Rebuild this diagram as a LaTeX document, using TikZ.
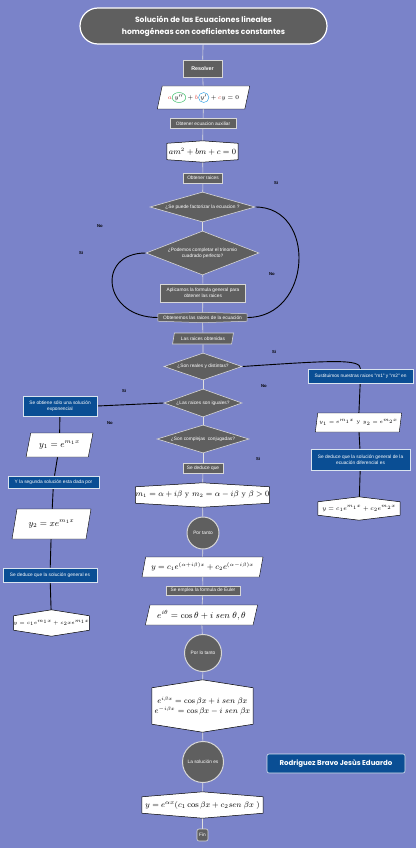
\documentclass[tikz,border=0pt]{standalone}
\usepackage{fontspec}
\newfontfamily\boxfont{Liberation Sans}
\newfontfamily\headfont{Poppins}
\usetikzlibrary{shapes.geometric, positioning}
\definecolor{bgblue}{RGB}{122,131,201}
\definecolor{boxgray}{RGB}{95,95,95}
\definecolor{edgegray}{RGB}{215,215,215}
\definecolor{boxblue}{RGB}{10,78,148}
\definecolor{abcred}{RGB}{225,70,60}
\definecolor{ygreen}{RGB}{60,190,105}
\definecolor{yblue}{RGB}{60,165,230}
\pgfdeclarelayer{background}
\pgfdeclarelayer{lines}
\pgfdeclarelayer{shapes}
\pgfsetlayers{background,lines,shapes,main}
\newcommand{\tinyfont}{\boxfont\fontsize{4.8}{5.8}\selectfont}
\newcommand{\mathsize}[2]{\fontsize{#1}{#2}\selectfont}
\newcommand{\ringed}[2]{\tikz[baseline]\node[ellipse, draw=#1, fill=none, line width=0.5pt, inner sep=0.3pt,
  minimum width=0pt, minimum height=0pt, anchor=base]{$#2$};}

\begin{document}
\begin{tikzpicture}[
  x=1pt, y=-1pt,
  headbox/.style={draw=white, line width=1.2pt, fill=boxgray, text=white, rounded corners=18pt,
                  align=center, font=\headfont\bfseries\fontsize{7.6}{12}\selectfont},
  graybox/.style={draw=edgegray, line width=0.6pt, fill=boxgray, text=white, font=\tinyfont,
                  inner sep=0.5pt, align=center},
  bluebox/.style={draw=white!85!boxblue, line width=0.6pt, fill=boxblue, text=white, font=\tinyfont,
                  inner sep=0.5pt, align=center},
  grayask/.style={diamond, draw=edgegray, line width=0.6pt, fill=boxgray, text=white, font=\tinyfont,
                  inner sep=0pt, align=center},
  slanted/.style={trapezium, trapezium left angle=68, trapezium right angle=112, trapezium stretches=true,
                  draw=black, line width=0.4pt, fill=white, inner sep=0pt},
  hexa/.style={inner sep=0pt, align=center},
  roundstep/.style={circle, draw=edgegray, line width=1pt, fill=boxgray, text=white, font=\tinyfont,
                    inner sep=0pt},
  tag/.style={font=\boxfont\bfseries\fontsize{4.2}{5}\selectfont},
  mainline/.style={draw=white!88!black, line width=0.6pt},
  sideline/.style={draw=black, line width=0.9pt}
]
  \begin{pgfonlayer}{background}
    \fill[bgblue] (0,0) rectangle (416,848);
  \end{pgfonlayer}
  \useasboundingbox (0,0) rectangle (416,848);

  \node[headbox, minimum width=247pt, minimum height=36pt] (title) at (203.5,26)
    {Solución de las Ecuaciones lineales\\homogéneas con coeficientes constantes};
  \node[graybox, minimum width=39pt, minimum height=17pt, font=\boxfont\bfseries\fontsize{5.3}{6}\selectfont]
    (resolver) at (202.5,68.5) {Resolver};
  \node[slanted, minimum width=93pt, minimum height=23pt, font=\mathsize{5.6}{7}] (ecdif) at (203.5,97.5)
    {$\textcolor{abcred}{a}\ringed{ygreen}{y''}+\textcolor{abcred}{b}\ringed{yblue}{y'}+\textcolor{abcred}{c}y=0$};
  \node[graybox, minimum width=66pt, minimum height=10pt] (ecuaux) at (203,123.5) {Obtener ecuacion auxiliar};
  \node[hexa, minimum width=71pt, minimum height=16pt, font=\mathsize{7.8}{9}] (eqaux) at (202.5,151.5) {$am^2+bm+c=0$};
  \node[graybox, minimum width=39pt, minimum height=10pt] (obtraices) at (203,178) {Obtener raices};
  \node[grayask, minimum width=105pt, minimum height=30pt, aspect=3.5] (fact) at (202.5,207)
    {¿Se puede factorizar la ecuacion ?};
  \node[grayask, minimum width=113pt, minimum height=44pt, aspect=2.6] (trin) at (202.5,253)
    {¿Podemos completar el trinomio\\cuadrado perfecto?};
  \node[graybox, minimum width=85pt, minimum height=18pt] (aplic) at (203,293)
    {Aplicamos la formula general para\\obtener las raices};
  \node[hexa, minimum width=89pt, minimum height=7pt, text=white, font=\tinyfont] (obten) at (202.5,317.5)
    {Obtenemos las raices de la ecuación};
  \node[slanted, draw=edgegray, line width=0.6pt, fill=boxgray, text=white, font=\tinyfont,
        minimum width=61pt, minimum height=11pt] (raicobt) at (203,338.5) {Las raices obtenidas};
  \node[grayask, minimum width=78pt, minimum height=27pt, aspect=2.9] (reales) at (203,366.5)
    {¿Son reales y distintas?};
  \node[grayask, minimum width=78pt, minimum height=28pt, aspect=2.8] (iguales) at (203,403)
    {¿Las raices son iguales?};
  \node[grayask, minimum width=92pt, minimum height=28pt, aspect=3.3] (compl) at (203,439)
    {¿Son complejas\enspace conjugadas?};
  \node[graybox, minimum width=40pt, minimum height=10pt] (sededuce) at (203,468) {Se deduce que};
  \node[hexa, minimum width=131pt, minimum height=16pt, font=\mathsize{7.8}{9}] (m12) at (202.5,495)
    {$m_1=\alpha+i\beta\ \mathrm{y}\ m_2=\alpha-i\beta\ \mathrm{y}\ \beta>0$};
  \node[roundstep, minimum size=32pt] (portanto) at (203,533) {Por tanto};
  \node[slanted, minimum width=121pt, minimum height=20pt, font=\mathsize{7.6}{9}] (ycpar) at (202.5,567)
    {$y=c_1e^{(\alpha+i\beta)x}+c_2e^{(\alpha-i\beta)x}$};
  \node[graybox, minimum width=74pt, minimum height=9pt] (euler) at (203,590.5) {Se emplea la formula de Euler};
  \node[slanted, minimum width=113pt, minimum height=20pt, font=\mathsize{8.6}{10}] (eulpar) at (201.5,615)
    {$e^{i\theta}=\cos\theta+i\;sen\;\theta,\theta$};
  \node[roundstep, minimum size=37pt] (porlotanto) at (203,653) {Por lo tanto};
  \node[hexa, minimum width=101pt, minimum height=36pt, font=\mathsize{7.8}{10.5}] (eitwo) at (202.5,706)
    {$e^{i\beta x}=\cos\beta x+i\;sen\;\beta x$\\$e^{-i\beta x}=\cos\beta x-i\;sen\;\beta x$};
  \node[roundstep, minimum size=41pt] (lasol) at (203,762) {La solución es};
  \node[hexa, minimum width=121pt, minimum height=16pt, font=\mathsize{8.2}{10}] (final) at (202.5,805)
    {$y=e^{\alpha x}(c_1\cos\beta x+c_2 sen\;\beta x\;)$};
  \node[graybox, rounded corners=2pt, minimum width=11pt, minimum height=12pt] (fin) at (202.5,835) {Fin};

  \node[bluebox, minimum width=74pt, minimum height=20pt] (sobt) at (60,406)
    {Se obtiene sólo una solución\\exponencial};
  \node[slanted, minimum width=67pt, minimum height=24pt, font=\mathsize{8.6}{10}] (y1par) at (59.5,445) {$y_1=e^{m_1x}$};
  \node[bluebox, minimum width=91pt, minimum height=12pt] (seg) at (53.5,482) {Y la segunda solución esta dada por};
  \node[slanted, minimum width=79pt, minimum height=30pt, font=\mathsize{9}{10}] (y2par) at (51.5,524) {$y_2=xe^{m_1x}$};
  \node[bluebox, minimum width=94pt, minimum height=14pt] (sdedgen) at (50,575) {Se deduce que la solución general es};
  \node[hexa, minimum width=75pt, minimum height=14pt, font=\mathsize{5.4}{6.5}] (hexl) at (51.5,623)
    {$y=c_1e^{m_1x}+c_2xe^{m_1x}$};

  \node[bluebox, minimum width=105pt, minimum height=14pt] (sust) at (360.5,376)
    {Sustituimos nuestras raices "m1" y "m2" en};
  \node[slanted, minimum width=87pt, minimum height=19pt, font=\mathsize{5.3}{6.5}] (y12par) at (358.5,422.5)
    {$y_1=e^{m_1x}\ \mathrm{y}\ y_2=e^{m_2x}$};
  \node[bluebox, minimum width=99pt, minimum height=21pt] (sdedgen2) at (360.5,459.5)
    {Se deduce que la solución general de la\\ecuación diferencial es};
  \node[hexa, minimum width=82pt, minimum height=13pt, font=\mathsize{5.8}{7}] (hexr) at (359,508.5)
    {$y=c_1e^{m_1x}+c_2e^{m_2x}$};

  \node[bluebox, rounded corners=2pt, minimum width=138pt, minimum height=19pt,
        font=\headfont\bfseries\fontsize{7}{8}\selectfont] (autor) at (336,763.5) {Rodriguez Bravo Jesùs Eduardo};

  \node[tag] (si1) at (276,183) {Si};
  \node[tag] (no1) at (100,226) {No};
  \node[tag] (si2) at (81,253) {Si};
  \node[tag] (no2) at (272,274) {No};
  \node[tag] (si3) at (274,352) {Si};
  \node[tag] (no3) at (264,386) {No};
  \node[tag] (si4) at (124,391) {Si};
  \node[tag] (no4) at (110,423) {No};
  \node[tag] (si5) at (258,459) {Si};

  \begin{pgfonlayer}{shapes}
    \foreach \n/\p/\f/\d in {eqaux/2.5/white/black, obten/1.5/boxgray/edgegray, m12/4/white/black,
                             eitwo/8/white/black, final/5/white/black, hexl/6/white/black, hexr/5/white/black}
      \filldraw[fill=\f, draw=\d, line width=0.5pt] (\n.south west) -- (\n.north west) -- ([yshift=\p pt]\n.north)
        -- (\n.north east) -- (\n.south east) -- ([yshift=-\p pt]\n.south) -- cycle;
  \end{pgfonlayer}

  \begin{pgfonlayer}{lines}
    \foreach \a/\b in {title/resolver, resolver/ecdif, ecdif/ecuaux, ecuaux/eqaux, eqaux/obtraices,
                       obtraices/fact, fact/trin, trin/aplic, aplic/obten, obten/raicobt, raicobt/reales,
                       reales/iguales, iguales/compl, compl/sededuce, sededuce/m12, m12/portanto,
                       portanto/ycpar, ycpar/euler, euler/eulpar, eulpar/porlotanto, porlotanto/eitwo,
                       eitwo/lasol, lasol/final, final/fin}
      \draw[mainline] (\a) -- (\b);
    \foreach \a/\b in {sobt/y1par, y1par/seg, seg/y2par, y2par/sdedgen, sdedgen/hexl,
                       sust/y12par, y12par/sdedgen2, sdedgen2/hexr}
      \draw[sideline] (\a) -- (\b);
    \draw[sideline] (fact.east) .. controls +(62,0) and +(65,0) .. (obten.east);
    \draw[sideline] (trin.west) .. controls +(-50,0) and +(-55,0) .. (obten.west);
    \draw[sideline] (reales.east) .. controls +(90,-6) and +(0,-10) .. (sust.north);
    \draw[sideline] (iguales.west) -- (sobt.east);
  \end{pgfonlayer}
\end{tikzpicture}
\end{document}
